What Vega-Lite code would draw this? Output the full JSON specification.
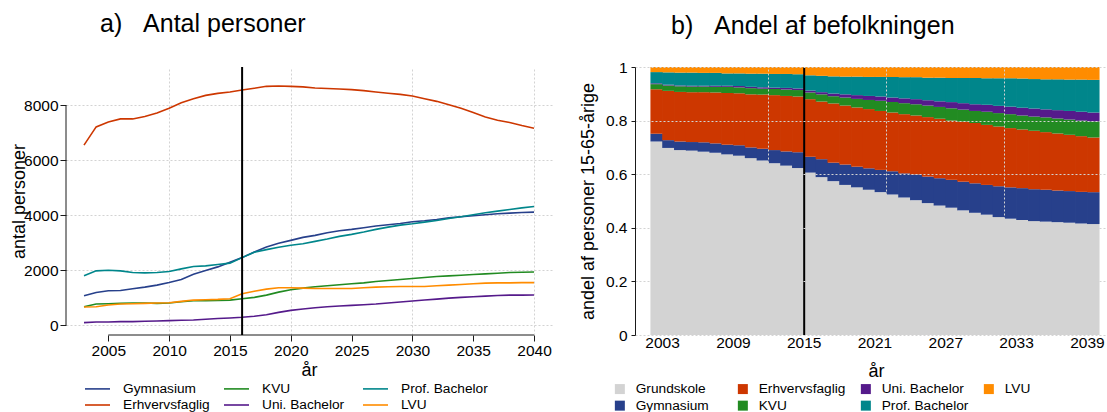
{
"$schema": "https://vega.github.io/schema/vega-lite/v6.json",
"padding": {"left": 10, "top": 12, "right": 0, "bottom": 0},
"bounds": "flush",
"spacing": 83,
"resolve": {"scale": {"color": "independent"}, "legend": {"color": "independent"}},
"datasets": {
"counts": [
{"year":2003,"cat":"Gymnasium","value":1074},{"year":2004,"cat":"Gymnasium","value":1195},{"year":2005,"cat":"Gymnasium","value":1255},{"year":2006,"cat":"Gymnasium","value":1267},{"year":2007,"cat":"Gymnasium","value":1327},{"year":2008,"cat":"Gymnasium","value":1388},{"year":2009,"cat":"Gymnasium","value":1460},{"year":2010,"cat":"Gymnasium","value":1556},{"year":2011,"cat":"Gymnasium","value":1665},{"year":2012,"cat":"Gymnasium","value":1858},{"year":2013,"cat":"Gymnasium","value":1991},{"year":2014,"cat":"Gymnasium","value":2124},{"year":2015,"cat":"Gymnasium","value":2292},{"year":2016,"cat":"Gymnasium","value":2461},{"year":2017,"cat":"Gymnasium","value":2666},{"year":2018,"cat":"Gymnasium","value":2847},{"year":2019,"cat":"Gymnasium","value":2980},{"year":2020,"cat":"Gymnasium","value":3089},{"year":2021,"cat":"Gymnasium","value":3197},{"year":2022,"cat":"Gymnasium","value":3270},{"year":2023,"cat":"Gymnasium","value":3366},{"year":2024,"cat":"Gymnasium","value":3439},{"year":2025,"cat":"Gymnasium","value":3487},{"year":2026,"cat":"Gymnasium","value":3547},{"year":2027,"cat":"Gymnasium","value":3608},{"year":2028,"cat":"Gymnasium","value":3656},{"year":2029,"cat":"Gymnasium","value":3704},{"year":2030,"cat":"Gymnasium","value":3764},{"year":2031,"cat":"Gymnasium","value":3801},{"year":2032,"cat":"Gymnasium","value":3849},{"year":2033,"cat":"Gymnasium","value":3909},{"year":2034,"cat":"Gymnasium","value":3945},{"year":2035,"cat":"Gymnasium","value":3982},{"year":2036,"cat":"Gymnasium","value":4018},{"year":2037,"cat":"Gymnasium","value":4054},{"year":2038,"cat":"Gymnasium","value":4078},{"year":2039,"cat":"Gymnasium","value":4102},{"year":2040,"cat":"Gymnasium","value":4115},
{"year":2003,"cat":"Erhvervsfaglig","value":6552},{"year":2004,"cat":"Erhvervsfaglig","value":7215},{"year":2005,"cat":"Erhvervsfaglig","value":7396},{"year":2006,"cat":"Erhvervsfaglig","value":7505},{"year":2007,"cat":"Erhvervsfaglig","value":7505},{"year":2008,"cat":"Erhvervsfaglig","value":7590},{"year":2009,"cat":"Erhvervsfaglig","value":7722},{"year":2010,"cat":"Erhvervsfaglig","value":7891},{"year":2011,"cat":"Erhvervsfaglig","value":8096},{"year":2012,"cat":"Erhvervsfaglig","value":8241},{"year":2013,"cat":"Erhvervsfaglig","value":8361},{"year":2014,"cat":"Erhvervsfaglig","value":8434},{"year":2015,"cat":"Erhvervsfaglig","value":8482},{"year":2016,"cat":"Erhvervsfaglig","value":8555},{"year":2017,"cat":"Erhvervsfaglig","value":8620},{"year":2018,"cat":"Erhvervsfaglig","value":8690},{"year":2019,"cat":"Erhvervsfaglig","value":8700},{"year":2020,"cat":"Erhvervsfaglig","value":8690},{"year":2021,"cat":"Erhvervsfaglig","value":8670},{"year":2022,"cat":"Erhvervsfaglig","value":8630},{"year":2023,"cat":"Erhvervsfaglig","value":8610},{"year":2024,"cat":"Erhvervsfaglig","value":8595},{"year":2025,"cat":"Erhvervsfaglig","value":8570},{"year":2026,"cat":"Erhvervsfaglig","value":8535},{"year":2027,"cat":"Erhvervsfaglig","value":8485},{"year":2028,"cat":"Erhvervsfaglig","value":8440},{"year":2029,"cat":"Erhvervsfaglig","value":8398},{"year":2030,"cat":"Erhvervsfaglig","value":8337},{"year":2031,"cat":"Erhvervsfaglig","value":8241},{"year":2032,"cat":"Erhvervsfaglig","value":8144},{"year":2033,"cat":"Erhvervsfaglig","value":8024},{"year":2034,"cat":"Erhvervsfaglig","value":7891},{"year":2035,"cat":"Erhvervsfaglig","value":7734},{"year":2036,"cat":"Erhvervsfaglig","value":7577},{"year":2037,"cat":"Erhvervsfaglig","value":7457},{"year":2038,"cat":"Erhvervsfaglig","value":7372},{"year":2039,"cat":"Erhvervsfaglig","value":7263},{"year":2040,"cat":"Erhvervsfaglig","value":7167},
{"year":2003,"cat":"KVU","value":676},{"year":2004,"cat":"KVU","value":772},{"year":2005,"cat":"KVU","value":784},{"year":2006,"cat":"KVU","value":796},{"year":2007,"cat":"KVU","value":808},{"year":2008,"cat":"KVU","value":808},{"year":2009,"cat":"KVU","value":796},{"year":2010,"cat":"KVU","value":808},{"year":2011,"cat":"KVU","value":857},{"year":2012,"cat":"KVU","value":893},{"year":2013,"cat":"KVU","value":893},{"year":2014,"cat":"KVU","value":905},{"year":2015,"cat":"KVU","value":917},{"year":2016,"cat":"KVU","value":965},{"year":2017,"cat":"KVU","value":1014},{"year":2018,"cat":"KVU","value":1098},{"year":2019,"cat":"KVU","value":1207},{"year":2020,"cat":"KVU","value":1291},{"year":2021,"cat":"KVU","value":1351},{"year":2022,"cat":"KVU","value":1400},{"year":2023,"cat":"KVU","value":1436},{"year":2024,"cat":"KVU","value":1472},{"year":2025,"cat":"KVU","value":1508},{"year":2026,"cat":"KVU","value":1544},{"year":2027,"cat":"KVU","value":1593},{"year":2028,"cat":"KVU","value":1629},{"year":2029,"cat":"KVU","value":1665},{"year":2030,"cat":"KVU","value":1701},{"year":2031,"cat":"KVU","value":1737},{"year":2032,"cat":"KVU","value":1774},{"year":2033,"cat":"KVU","value":1798},{"year":2034,"cat":"KVU","value":1822},{"year":2035,"cat":"KVU","value":1846},{"year":2036,"cat":"KVU","value":1870},{"year":2037,"cat":"KVU","value":1894},{"year":2038,"cat":"KVU","value":1918},{"year":2039,"cat":"KVU","value":1931},{"year":2040,"cat":"KVU","value":1940},
{"year":2003,"cat":"Uni. Bachelor","value":97},{"year":2004,"cat":"Uni. Bachelor","value":121},{"year":2005,"cat":"Uni. Bachelor","value":121},{"year":2006,"cat":"Uni. Bachelor","value":133},{"year":2007,"cat":"Uni. Bachelor","value":133},{"year":2008,"cat":"Uni. Bachelor","value":145},{"year":2009,"cat":"Uni. Bachelor","value":157},{"year":2010,"cat":"Uni. Bachelor","value":169},{"year":2011,"cat":"Uni. Bachelor","value":181},{"year":2012,"cat":"Uni. Bachelor","value":193},{"year":2013,"cat":"Uni. Bachelor","value":217},{"year":2014,"cat":"Uni. Bachelor","value":245},{"year":2015,"cat":"Uni. Bachelor","value":265},{"year":2016,"cat":"Uni. Bachelor","value":290},{"year":2017,"cat":"Uni. Bachelor","value":330},{"year":2018,"cat":"Uni. Bachelor","value":386},{"year":2019,"cat":"Uni. Bachelor","value":471},{"year":2020,"cat":"Uni. Bachelor","value":543},{"year":2021,"cat":"Uni. Bachelor","value":591},{"year":2022,"cat":"Uni. Bachelor","value":640},{"year":2023,"cat":"Uni. Bachelor","value":676},{"year":2024,"cat":"Uni. Bachelor","value":700},{"year":2025,"cat":"Uni. Bachelor","value":724},{"year":2026,"cat":"Uni. Bachelor","value":748},{"year":2027,"cat":"Uni. Bachelor","value":772},{"year":2028,"cat":"Uni. Bachelor","value":808},{"year":2029,"cat":"Uni. Bachelor","value":845},{"year":2030,"cat":"Uni. Bachelor","value":881},{"year":2031,"cat":"Uni. Bachelor","value":917},{"year":2032,"cat":"Uni. Bachelor","value":953},{"year":2033,"cat":"Uni. Bachelor","value":989},{"year":2034,"cat":"Uni. Bachelor","value":1014},{"year":2035,"cat":"Uni. Bachelor","value":1038},{"year":2036,"cat":"Uni. Bachelor","value":1062},{"year":2037,"cat":"Uni. Bachelor","value":1086},{"year":2038,"cat":"Uni. Bachelor","value":1098},{"year":2039,"cat":"Uni. Bachelor","value":1098},{"year":2040,"cat":"Uni. Bachelor","value":1100},
{"year":2003,"cat":"Prof. Bachelor","value":1798},{"year":2004,"cat":"Prof. Bachelor","value":1979},{"year":2005,"cat":"Prof. Bachelor","value":2003},{"year":2006,"cat":"Prof. Bachelor","value":1979},{"year":2007,"cat":"Prof. Bachelor","value":1918},{"year":2008,"cat":"Prof. Bachelor","value":1906},{"year":2009,"cat":"Prof. Bachelor","value":1918},{"year":2010,"cat":"Prof. Bachelor","value":1955},{"year":2011,"cat":"Prof. Bachelor","value":2051},{"year":2012,"cat":"Prof. Bachelor","value":2136},{"year":2013,"cat":"Prof. Bachelor","value":2160},{"year":2014,"cat":"Prof. Bachelor","value":2208},{"year":2015,"cat":"Prof. Bachelor","value":2260},{"year":2016,"cat":"Prof. Bachelor","value":2461},{"year":2017,"cat":"Prof. Bachelor","value":2654},{"year":2018,"cat":"Prof. Bachelor","value":2751},{"year":2019,"cat":"Prof. Bachelor","value":2835},{"year":2020,"cat":"Prof. Bachelor","value":2908},{"year":2021,"cat":"Prof. Bachelor","value":2968},{"year":2022,"cat":"Prof. Bachelor","value":3053},{"year":2023,"cat":"Prof. Bachelor","value":3137},{"year":2024,"cat":"Prof. Bachelor","value":3234},{"year":2025,"cat":"Prof. Bachelor","value":3306},{"year":2026,"cat":"Prof. Bachelor","value":3390},{"year":2027,"cat":"Prof. Bachelor","value":3487},{"year":2028,"cat":"Prof. Bachelor","value":3571},{"year":2029,"cat":"Prof. Bachelor","value":3644},{"year":2030,"cat":"Prof. Bachelor","value":3692},{"year":2031,"cat":"Prof. Bachelor","value":3752},{"year":2032,"cat":"Prof. Bachelor","value":3813},{"year":2033,"cat":"Prof. Bachelor","value":3885},{"year":2034,"cat":"Prof. Bachelor","value":3945},{"year":2035,"cat":"Prof. Bachelor","value":4018},{"year":2036,"cat":"Prof. Bachelor","value":4090},{"year":2037,"cat":"Prof. Bachelor","value":4151},{"year":2038,"cat":"Prof. Bachelor","value":4211},{"year":2039,"cat":"Prof. Bachelor","value":4271},{"year":2040,"cat":"Prof. Bachelor","value":4320},
{"year":2003,"cat":"LVU","value":664},{"year":2004,"cat":"LVU","value":676},{"year":2005,"cat":"LVU","value":736},{"year":2006,"cat":"LVU","value":772},{"year":2007,"cat":"LVU","value":784},{"year":2008,"cat":"LVU","value":796},{"year":2009,"cat":"LVU","value":808},{"year":2010,"cat":"LVU","value":820},{"year":2011,"cat":"LVU","value":869},{"year":2012,"cat":"LVU","value":917},{"year":2013,"cat":"LVU","value":929},{"year":2014,"cat":"LVU","value":941},{"year":2015,"cat":"LVU","value":965},{"year":2016,"cat":"LVU","value":1150},{"year":2017,"cat":"LVU","value":1240},{"year":2018,"cat":"LVU","value":1315},{"year":2019,"cat":"LVU","value":1363},{"year":2020,"cat":"LVU","value":1363},{"year":2021,"cat":"LVU","value":1351},{"year":2022,"cat":"LVU","value":1339},{"year":2023,"cat":"LVU","value":1339},{"year":2024,"cat":"LVU","value":1339},{"year":2025,"cat":"LVU","value":1339},{"year":2026,"cat":"LVU","value":1363},{"year":2027,"cat":"LVU","value":1388},{"year":2028,"cat":"LVU","value":1400},{"year":2029,"cat":"LVU","value":1412},{"year":2030,"cat":"LVU","value":1412},{"year":2031,"cat":"LVU","value":1412},{"year":2032,"cat":"LVU","value":1436},{"year":2033,"cat":"LVU","value":1460},{"year":2034,"cat":"LVU","value":1484},{"year":2035,"cat":"LVU","value":1508},{"year":2036,"cat":"LVU","value":1532},{"year":2037,"cat":"LVU","value":1544},{"year":2038,"cat":"LVU","value":1544},{"year":2039,"cat":"LVU","value":1550},{"year":2040,"cat":"LVU","value":1550}
],
"shares": [
{"year":2003,"cat":"Grundskole","share":0.722},{"year":2003,"cat":"Gymnasium","share":0.029},{"year":2003,"cat":"Erhvervsfaglig","share":0.166},{"year":2003,"cat":"KVU","share":0.019},{"year":2003,"cat":"Uni. Bachelor","share":0.003},{"year":2003,"cat":"Prof. Bachelor","share":0.042},{"year":2003,"cat":"LVU","share":0.019},
{"year":2004,"cat":"Grundskole","share":0.698},{"year":2004,"cat":"Gymnasium","share":0.029},{"year":2004,"cat":"Erhvervsfaglig","share":0.184},{"year":2004,"cat":"KVU","share":0.020},{"year":2004,"cat":"Uni. Bachelor","share":0.003},{"year":2004,"cat":"Prof. Bachelor","share":0.046},{"year":2004,"cat":"LVU","share":0.020},
{"year":2005,"cat":"Grundskole","share":0.690},{"year":2005,"cat":"Gymnasium","share":0.032},{"year":2005,"cat":"Erhvervsfaglig","share":0.185},{"year":2005,"cat":"KVU","share":0.021},{"year":2005,"cat":"Uni. Bachelor","share":0.003},{"year":2005,"cat":"Prof. Bachelor","share":0.048},{"year":2005,"cat":"LVU","share":0.021},
{"year":2006,"cat":"Grundskole","share":0.688},{"year":2006,"cat":"Gymnasium","share":0.032},{"year":2006,"cat":"Erhvervsfaglig","share":0.186},{"year":2006,"cat":"KVU","share":0.021},{"year":2006,"cat":"Uni. Bachelor","share":0.003},{"year":2006,"cat":"Prof. Bachelor","share":0.049},{"year":2006,"cat":"LVU","share":0.021},
{"year":2007,"cat":"Grundskole","share":0.684},{"year":2007,"cat":"Gymnasium","share":0.035},{"year":2007,"cat":"Erhvervsfaglig","share":0.187},{"year":2007,"cat":"KVU","share":0.021},{"year":2007,"cat":"Uni. Bachelor","share":0.003},{"year":2007,"cat":"Prof. Bachelor","share":0.048},{"year":2007,"cat":"LVU","share":0.022},
{"year":2008,"cat":"Grundskole","share":0.680},{"year":2008,"cat":"Gymnasium","share":0.035},{"year":2008,"cat":"Erhvervsfaglig","share":0.190},{"year":2008,"cat":"KVU","share":0.021},{"year":2008,"cat":"Uni. Bachelor","share":0.004},{"year":2008,"cat":"Prof. Bachelor","share":0.048},{"year":2008,"cat":"LVU","share":0.022},
{"year":2009,"cat":"Grundskole","share":0.674},{"year":2009,"cat":"Gymnasium","share":0.036},{"year":2009,"cat":"Erhvervsfaglig","share":0.193},{"year":2009,"cat":"KVU","share":0.023},{"year":2009,"cat":"Uni. Bachelor","share":0.004},{"year":2009,"cat":"Prof. Bachelor","share":0.046},{"year":2009,"cat":"LVU","share":0.024},
{"year":2010,"cat":"Grundskole","share":0.669},{"year":2010,"cat":"Gymnasium","share":0.039},{"year":2010,"cat":"Erhvervsfaglig","share":0.194},{"year":2010,"cat":"KVU","share":0.022},{"year":2010,"cat":"Uni. Bachelor","share":0.005},{"year":2010,"cat":"Prof. Bachelor","share":0.047},{"year":2010,"cat":"LVU","share":0.024},
{"year":2011,"cat":"Grundskole","share":0.660},{"year":2011,"cat":"Gymnasium","share":0.040},{"year":2011,"cat":"Erhvervsfaglig","share":0.198},{"year":2011,"cat":"KVU","share":0.023},{"year":2011,"cat":"Uni. Bachelor","share":0.005},{"year":2011,"cat":"Prof. Bachelor","share":0.049},{"year":2011,"cat":"LVU","share":0.025},
{"year":2012,"cat":"Grundskole","share":0.651},{"year":2012,"cat":"Gymnasium","share":0.044},{"year":2012,"cat":"Erhvervsfaglig","share":0.202},{"year":2012,"cat":"KVU","share":0.022},{"year":2012,"cat":"Uni. Bachelor","share":0.005},{"year":2012,"cat":"Prof. Bachelor","share":0.051},{"year":2012,"cat":"LVU","share":0.025},
{"year":2013,"cat":"Grundskole","share":0.641},{"year":2013,"cat":"Gymnasium","share":0.049},{"year":2013,"cat":"Erhvervsfaglig","share":0.205},{"year":2013,"cat":"KVU","share":0.023},{"year":2013,"cat":"Uni. Bachelor","share":0.005},{"year":2013,"cat":"Prof. Bachelor","share":0.051},{"year":2013,"cat":"LVU","share":0.026},
{"year":2014,"cat":"Grundskole","share":0.632},{"year":2014,"cat":"Gymnasium","share":0.053},{"year":2014,"cat":"Erhvervsfaglig","share":0.207},{"year":2014,"cat":"KVU","share":0.024},{"year":2014,"cat":"Uni. Bachelor","share":0.006},{"year":2014,"cat":"Prof. Bachelor","share":0.052},{"year":2014,"cat":"LVU","share":0.026},
{"year":2015,"cat":"Grundskole","share":0.623},{"year":2015,"cat":"Gymnasium","share":0.059},{"year":2015,"cat":"Erhvervsfaglig","share":0.208},{"year":2015,"cat":"KVU","share":0.024},{"year":2015,"cat":"Uni. Bachelor","share":0.006},{"year":2015,"cat":"Prof. Bachelor","share":0.053},{"year":2015,"cat":"LVU","share":0.027},
{"year":2016,"cat":"Grundskole","share":0.606},{"year":2016,"cat":"Gymnasium","share":0.059},{"year":2016,"cat":"Erhvervsfaglig","share":0.215},{"year":2016,"cat":"KVU","share":0.025},{"year":2016,"cat":"Uni. Bachelor","share":0.007},{"year":2016,"cat":"Prof. Bachelor","share":0.057},{"year":2016,"cat":"LVU","share":0.031},
{"year":2017,"cat":"Grundskole","share":0.589},{"year":2017,"cat":"Gymnasium","share":0.067},{"year":2017,"cat":"Erhvervsfaglig","share":0.215},{"year":2017,"cat":"KVU","share":0.027},{"year":2017,"cat":"Uni. Bachelor","share":0.008},{"year":2017,"cat":"Prof. Bachelor","share":0.061},{"year":2017,"cat":"LVU","share":0.033},
{"year":2018,"cat":"Grundskole","share":0.574},{"year":2018,"cat":"Gymnasium","share":0.069},{"year":2018,"cat":"Erhvervsfaglig","share":0.221},{"year":2018,"cat":"KVU","share":0.027},{"year":2018,"cat":"Uni. Bachelor","share":0.010},{"year":2018,"cat":"Prof. Bachelor","share":0.064},{"year":2018,"cat":"LVU","share":0.035},
{"year":2019,"cat":"Grundskole","share":0.560},{"year":2019,"cat":"Gymnasium","share":0.076},{"year":2019,"cat":"Erhvervsfaglig","share":0.220},{"year":2019,"cat":"KVU","share":0.030},{"year":2019,"cat":"Uni. Bachelor","share":0.012},{"year":2019,"cat":"Prof. Bachelor","share":0.066},{"year":2019,"cat":"LVU","share":0.036},
{"year":2020,"cat":"Grundskole","share":0.551},{"year":2020,"cat":"Gymnasium","share":0.077},{"year":2020,"cat":"Erhvervsfaglig","share":0.221},{"year":2020,"cat":"KVU","share":0.032},{"year":2020,"cat":"Uni. Bachelor","share":0.014},{"year":2020,"cat":"Prof. Bachelor","share":0.069},{"year":2020,"cat":"LVU","share":0.036},
{"year":2021,"cat":"Grundskole","share":0.542},{"year":2021,"cat":"Gymnasium","share":0.080},{"year":2021,"cat":"Erhvervsfaglig","share":0.221},{"year":2021,"cat":"KVU","share":0.034},{"year":2021,"cat":"Uni. Bachelor","share":0.015},{"year":2021,"cat":"Prof. Bachelor","share":0.071},{"year":2021,"cat":"LVU","share":0.037},
{"year":2022,"cat":"Grundskole","share":0.533},{"year":2022,"cat":"Gymnasium","share":0.083},{"year":2022,"cat":"Erhvervsfaglig","share":0.220},{"year":2022,"cat":"KVU","share":0.038},{"year":2022,"cat":"Uni. Bachelor","share":0.016},{"year":2022,"cat":"Prof. Bachelor","share":0.073},{"year":2022,"cat":"LVU","share":0.037},
{"year":2023,"cat":"Grundskole","share":0.524},{"year":2023,"cat":"Gymnasium","share":0.087},{"year":2023,"cat":"Erhvervsfaglig","share":0.219},{"year":2023,"cat":"KVU","share":0.039},{"year":2023,"cat":"Uni. Bachelor","share":0.017},{"year":2023,"cat":"Prof. Bachelor","share":0.077},{"year":2023,"cat":"LVU","share":0.037},
{"year":2024,"cat":"Grundskole","share":0.513},{"year":2024,"cat":"Gymnasium","share":0.090},{"year":2024,"cat":"Erhvervsfaglig","share":0.221},{"year":2024,"cat":"KVU","share":0.041},{"year":2024,"cat":"Uni. Bachelor","share":0.018},{"year":2024,"cat":"Prof. Bachelor","share":0.079},{"year":2024,"cat":"LVU","share":0.038},
{"year":2025,"cat":"Grundskole","share":0.503},{"year":2025,"cat":"Gymnasium","share":0.096},{"year":2025,"cat":"Erhvervsfaglig","share":0.220},{"year":2025,"cat":"KVU","share":0.042},{"year":2025,"cat":"Uni. Bachelor","share":0.019},{"year":2025,"cat":"Prof. Bachelor","share":0.082},{"year":2025,"cat":"LVU","share":0.038},
{"year":2026,"cat":"Grundskole","share":0.492},{"year":2026,"cat":"Gymnasium","share":0.099},{"year":2026,"cat":"Erhvervsfaglig","share":0.222},{"year":2026,"cat":"KVU","share":0.043},{"year":2026,"cat":"Uni. Bachelor","share":0.020},{"year":2026,"cat":"Prof. Bachelor","share":0.084},{"year":2026,"cat":"LVU","share":0.040},
{"year":2027,"cat":"Grundskole","share":0.483},{"year":2027,"cat":"Gymnasium","share":0.102},{"year":2027,"cat":"Erhvervsfaglig","share":0.222},{"year":2027,"cat":"KVU","share":0.044},{"year":2027,"cat":"Uni. Bachelor","share":0.021},{"year":2027,"cat":"Prof. Bachelor","share":0.088},{"year":2027,"cat":"LVU","share":0.040},
{"year":2028,"cat":"Grundskole","share":0.475},{"year":2028,"cat":"Gymnasium","share":0.104},{"year":2028,"cat":"Erhvervsfaglig","share":0.221},{"year":2028,"cat":"KVU","share":0.046},{"year":2028,"cat":"Uni. Bachelor","share":0.023},{"year":2028,"cat":"Prof. Bachelor","share":0.090},{"year":2028,"cat":"LVU","share":0.041},
{"year":2029,"cat":"Grundskole","share":0.465},{"year":2029,"cat":"Gymnasium","share":0.107},{"year":2029,"cat":"Erhvervsfaglig","share":0.224},{"year":2029,"cat":"KVU","share":0.045},{"year":2029,"cat":"Uni. Bachelor","share":0.024},{"year":2029,"cat":"Prof. Bachelor","share":0.094},{"year":2029,"cat":"LVU","share":0.041},
{"year":2030,"cat":"Grundskole","share":0.456},{"year":2030,"cat":"Gymnasium","share":0.110},{"year":2030,"cat":"Erhvervsfaglig","share":0.225},{"year":2030,"cat":"KVU","share":0.045},{"year":2030,"cat":"Uni. Bachelor","share":0.025},{"year":2030,"cat":"Prof. Bachelor","share":0.098},{"year":2030,"cat":"LVU","share":0.041},
{"year":2031,"cat":"Grundskole","share":0.449},{"year":2031,"cat":"Gymnasium","share":0.111},{"year":2031,"cat":"Erhvervsfaglig","share":0.224},{"year":2031,"cat":"KVU","share":0.049},{"year":2031,"cat":"Uni. Bachelor","share":0.026},{"year":2031,"cat":"Prof. Bachelor","share":0.099},{"year":2031,"cat":"LVU","share":0.042},
{"year":2032,"cat":"Grundskole","share":0.440},{"year":2032,"cat":"Gymnasium","share":0.115},{"year":2032,"cat":"Erhvervsfaglig","share":0.223},{"year":2032,"cat":"KVU","share":0.050},{"year":2032,"cat":"Uni. Bachelor","share":0.027},{"year":2032,"cat":"Prof. Bachelor","share":0.103},{"year":2032,"cat":"LVU","share":0.042},
{"year":2033,"cat":"Grundskole","share":0.434},{"year":2033,"cat":"Gymnasium","share":0.117},{"year":2033,"cat":"Erhvervsfaglig","share":0.221},{"year":2033,"cat":"KVU","share":0.052},{"year":2033,"cat":"Uni. Bachelor","share":0.028},{"year":2033,"cat":"Prof. Bachelor","share":0.106},{"year":2033,"cat":"LVU","share":0.042},
{"year":2034,"cat":"Grundskole","share":0.429},{"year":2034,"cat":"Gymnasium","share":0.119},{"year":2034,"cat":"Erhvervsfaglig","share":0.219},{"year":2034,"cat":"KVU","share":0.052},{"year":2034,"cat":"Uni. Bachelor","share":0.029},{"year":2034,"cat":"Prof. Bachelor","share":0.109},{"year":2034,"cat":"LVU","share":0.043},
{"year":2035,"cat":"Grundskole","share":0.425},{"year":2035,"cat":"Gymnasium","share":0.119},{"year":2035,"cat":"Erhvervsfaglig","share":0.218},{"year":2035,"cat":"KVU","share":0.053},{"year":2035,"cat":"Uni. Bachelor","share":0.030},{"year":2035,"cat":"Prof. Bachelor","share":0.110},{"year":2035,"cat":"LVU","share":0.045},
{"year":2036,"cat":"Grundskole","share":0.423},{"year":2036,"cat":"Gymnasium","share":0.119},{"year":2036,"cat":"Erhvervsfaglig","share":0.215},{"year":2036,"cat":"KVU","share":0.055},{"year":2036,"cat":"Uni. Bachelor","share":0.030},{"year":2036,"cat":"Prof. Bachelor","share":0.112},{"year":2036,"cat":"LVU","share":0.046},
{"year":2037,"cat":"Grundskole","share":0.421},{"year":2037,"cat":"Gymnasium","share":0.118},{"year":2037,"cat":"Erhvervsfaglig","share":0.213},{"year":2037,"cat":"KVU","share":0.056},{"year":2037,"cat":"Uni. Bachelor","share":0.031},{"year":2037,"cat":"Prof. Bachelor","share":0.115},{"year":2037,"cat":"LVU","share":0.046},
{"year":2038,"cat":"Grundskole","share":0.419},{"year":2038,"cat":"Gymnasium","share":0.118},{"year":2038,"cat":"Erhvervsfaglig","share":0.210},{"year":2038,"cat":"KVU","share":0.057},{"year":2038,"cat":"Uni. Bachelor","share":0.032},{"year":2038,"cat":"Prof. Bachelor","share":0.117},{"year":2038,"cat":"LVU","share":0.047},
{"year":2039,"cat":"Grundskole","share":0.416},{"year":2039,"cat":"Gymnasium","share":0.118},{"year":2039,"cat":"Erhvervsfaglig","share":0.208},{"year":2039,"cat":"KVU","share":0.058},{"year":2039,"cat":"Uni. Bachelor","share":0.033},{"year":2039,"cat":"Prof. Bachelor","share":0.120},{"year":2039,"cat":"LVU","share":0.047},
{"year":2040,"cat":"Grundskole","share":0.414},{"year":2040,"cat":"Gymnasium","share":0.119},{"year":2040,"cat":"Erhvervsfaglig","share":0.204},{"year":2040,"cat":"KVU","share":0.060},{"year":2040,"cat":"Uni. Bachelor","share":0.033},{"year":2040,"cat":"Prof. Bachelor","share":0.122},{"year":2040,"cat":"LVU","share":0.048}
]
},
"hconcat": [
{
"width": 486, "height": 268,
"title": {"text": "a)\u00a0\u00a0\u00a0Antal personer", "anchor": "start", "frame": "group", "dx": 34, "offset": 9, "baseline": "alphabetic"},
"layer": [
{"data": {"name": "counts"},
 "mark": {"type": "line", "strokeWidth": 1.6},
 "encoding": {
  "x": {"field": "year", "type": "quantitative", "scale": {"domain": [2001.52, 2041.48], "nice": false, "zero": false},
        "axis": {"orient": "bottom", "values": [2005,2010,2015,2020,2025,2030,2035,2040], "format": "d", "grid": false, "domain": false, "ticks": true, "tickSize": 6, "tickWidth": 1, "tickColor": "#1a1a1a", "labelPadding": 2, "labelFlush": false, "title": "år", "titleY": 35, "titleBaseline": "middle"}},
  "y": {"field": "value", "type": "quantitative", "scale": {"domain": [-353, 9393], "nice": false, "zero": false},
        "axis": {"values": [0,2000,4000,6000,8000], "format": "d", "grid": true, "domain": false, "ticks": true, "tickSize": 6, "tickWidth": 1, "tickColor": "#1a1a1a", "labelPadding": 2, "title": "antal personer", "titleX": -47, "titleY": 134, "titleAngle": 270, "titleBaseline": "middle"}},
  "color": {"field": "cat", "type": "nominal",
    "scale": {"domain": ["Gymnasium","Erhvervsfaglig","KVU","Uni. Bachelor","Prof. Bachelor","LVU"], "range": ["#27408B","#CD3700","#228B22","#551A8B","#00868B","#FF8C00"]},
    "legend": {"orient": "none", "legendX": 24, "legendY": 314, "direction": "vertical", "columns": 3, "title": null, "symbolType": "M-2,0H2", "symbolSize": 156.25, "symbolStrokeWidth": 1.6, "labelOffset": 18, "columnPadding": 10, "rowPadding": 1.5, "gridAlign": "all", "padding": 0}}
 }},
{"data": {"values": [{}]},
 "mark": {"type": "rule", "color": "#1a1a1a", "strokeWidth": 1},
 "encoding": {"x": {"datum": 2005, "type": "quantitative", "axis": null}, "x2": {"datum": 2040}, "y": {"datum": -353, "type": "quantitative"}}},
{"data": {"values": [{}]},
 "mark": {"type": "rule", "color": "#1a1a1a", "strokeWidth": 1},
 "encoding": {"x": {"datum": 2001.52, "type": "quantitative", "axis": null}, "y": {"datum": 0, "type": "quantitative"}, "y2": {"datum": 8000}}},
{"data": {"values": [{}]},
 "mark": {"type": "rule", "color": "black", "strokeWidth": 2},
 "encoding": {"x": {"datum": 2016, "type": "quantitative",
   "axis": {"orient": "bottom", "values": [2010,2020,2030,2040], "grid": true, "labels": false, "ticks": false, "domain": false, "title": null}}}}
],
"resolve": {"axis": {"x": "independent"}}
},
{
"width": 472, "height": 268,
"title": {"text": "b)\u00a0\u00a0\u00a0Andel af befolkningen", "anchor": "start", "frame": "group", "dx": 36, "offset": 1, "baseline": "alphabetic"},
"layer": [
{"data": {"name": "shares"},
 "transform": [{"calculate": "indexof(['Grundskole','Gymnasium','Erhvervsfaglig','KVU','Uni. Bachelor','Prof. Bachelor','LVU'], datum.cat)", "as": "rank"}],
 "mark": {"type": "bar", "width": {"band": 1.06}},
 "encoding": {
  "x": {"field": "year", "type": "ordinal", "scale": {"paddingInner": 0, "paddingOuter": 1.08, "align": 0.669},
        "axis": {"orient": "bottom", "values": [2003,2009,2015,2021,2027,2033,2039], "labelOffset": 5.9, "labelAngle": 0, "ticks": false, "tickSize": 0, "domain": false, "grid": false, "labelPadding": 0, "title": "år", "titleX": 241, "titleY": 36, "titleBaseline": "middle"}},
  "y": {"field": "share", "type": "quantitative", "stack": "zero", "scale": {"domain": [0, 1], "nice": false},
        "axis": {"values": [0,0.2,0.4,0.6,0.8,1], "format": "~g", "grid": true, "zindex": 1, "domain": true, "domainWidth": 1, "domainColor": "#1a1a1a", "ticks": true, "tickSize": 4, "tickWidth": 1, "tickColor": "#1a1a1a", "labelPadding": 4, "title": "andel af personer 15-65-årige", "titleX": -47, "titleY": 134, "titleAngle": 270, "titleBaseline": "middle"}},
  "color": {"field": "cat", "type": "nominal",
    "scale": {"domain": ["Grundskole","Gymnasium","Erhvervsfaglig","KVU","Uni. Bachelor","Prof. Bachelor","LVU"], "range": ["#D3D3D3","#27408B","#CD3700","#228B22","#551A8B","#00868B","#FF8C00"]},
    "legend": {"orient": "none", "legendX": -22, "legendY": 315, "direction": "vertical", "columns": 4, "title": null, "symbolType": "square", "symbolSize": 100, "symbolStrokeWidth": 0, "labelOffset": 9, "columnPadding": 13, "rowPadding": 1.8, "gridAlign": "all", "padding": 0}},
  "order": {"field": "rank", "type": "quantitative", "sort": "ascending"}
 }},
{"data": {"values": [{}]},
 "mark": {"type": "rule", "color": "black", "strokeWidth": 2},
 "encoding": {"x": {"datum": 2015, "type": "ordinal", "bandPosition": 1,
   "axis": {"orient": "bottom", "values": [2012,2022,2032], "bandPosition": 1, "grid": true, "labels": false, "ticks": false, "domain": false, "title": null, "zindex": 1}}}}
],
"resolve": {"axis": {"x": "independent"}}
}
],
"config": {
 "font": "Liberation Sans",
 "view": {"stroke": null},
 "axis": {"labelFont": "Liberation Sans", "titleFont": "Liberation Sans", "labelFontSize": 15.5, "titleFontSize": 18, "labelColor": "black", "titleColor": "black", "titleFontWeight": "normal", "domainColor": "#1a1a1a", "tickColor": "#1a1a1a", "gridColor": "#d3d3d3", "gridDash": [2, 2], "gridWidth": 1, "labelOverlap": false},
 "legend": {"labelFont": "Liberation Sans", "labelFontSize": 13.7, "labelColor": "black", "labelLimit": 0},
 "title": {"font": "Liberation Sans", "fontSize": 25, "fontWeight": "normal", "color": "black"}
}
}
